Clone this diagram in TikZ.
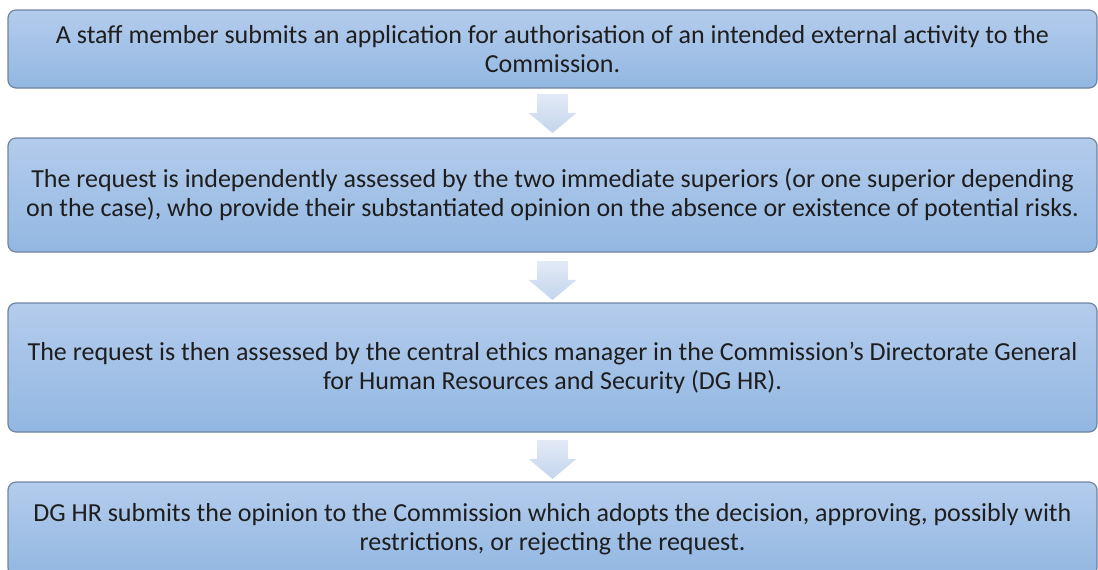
\documentclass[tikz,border=0pt]{standalone}
\usepackage{fontspec}
\setmainfont{Carlito}
\usetikzlibrary{shapes.arrows,calc}

\definecolor{boxtop}{RGB}{180,204,236}
\definecolor{boxbottom}{RGB}{146,183,226}
\definecolor{boxline}{RGB}{112,132,160}
\definecolor{arrowtop}{RGB}{226,234,246}
\definecolor{arrowbottom}{RGB}{196,213,237}
\definecolor{textcol}{RGB}{30,30,30}

\tikzset{
  stepbox/.style={rectangle, rounded corners=4pt, draw=boxline, line width=0.6pt,
    top color=boxtop, bottom color=boxbottom, minimum width=544.5pt,
    align=center, font=\fontsize{13}{14.5}\selectfont, text=textcol, inner sep=0pt},
  flowarrow/.style={single arrow, shape border rotate=270, draw=none,
    top color=arrowtop, bottom color=arrowbottom, minimum height=19.5pt,
    inner xsep=7.5pt, inner ysep=0pt, single arrow head extend=4.25pt,
    single arrow tip angle=100, anchor=tail}
}

\begin{document}
\begin{tikzpicture}[x=0.5pt, y=-0.5pt]
            \useasboundingbox (0,0) rectangle (1098,569);
            \clip (0,0) rectangle (1098,569);
            % Steps of the procedure
            \node[stepbox, minimum height=39pt] (s1) at (552.5,49)
              {A staff member submits an application for authorisation of an intended external activity to the\\Commission.};
            \node[stepbox, minimum height=57pt] (s2) at (552.5,195)
              {The request is independently assessed by the two immediate superiors (or one superior depending\\on the case), who provide their substantiated opinion on the absence or existence of potential risks.};
            \node[stepbox, minimum height=64.5pt] (s3) at (552.5,367.5)
              {The request is then assessed by the central ethics manager in the Commission’s Directorate General\\for Human Resources and Security (DG HR).};
            \node[stepbox, minimum height=47pt] (s4) at (552.5,529)
              {DG HR submits the opinion to the Commission which adopts the decision, approving, possibly with\\restrictions, or rejecting the request.};
            % Arrows between the steps
            \node[flowarrow] (a1) at ($(s1.south)+(0,5)$) {};
            \node[flowarrow] (a2) at ($(s2.south)+(0,8)$) {};
            \node[flowarrow] (a3) at ($(s3.south)+(0,7)$) {};
        \end{tikzpicture}
\end{document}
